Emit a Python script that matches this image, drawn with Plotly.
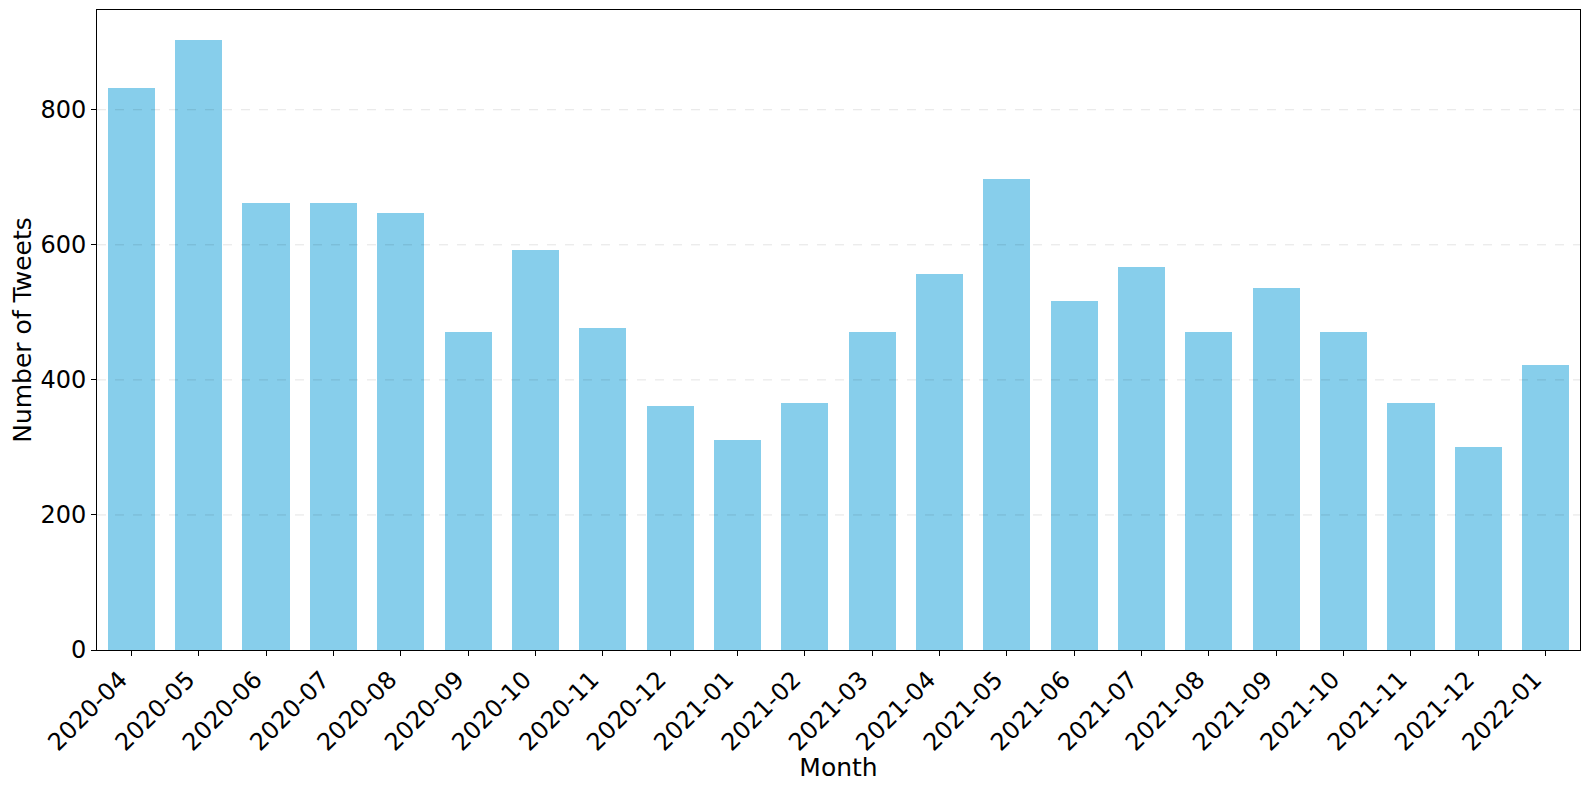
import plotly.graph_objects as go

# monthly tweet counts
months = [
    "2020-04", "2020-05", "2020-06", "2020-07", "2020-08", "2020-09",
    "2020-10", "2020-11", "2020-12", "2021-01", "2021-02", "2021-03",
    "2021-04", "2021-05", "2021-06", "2021-07", "2021-08", "2021-09",
    "2021-10", "2021-11", "2021-12", "2022-01",
]
tweet_counts = [
    832, 903, 662, 662, 647, 471,
    592, 477, 361, 311, 366, 471,
    557, 698, 517, 567, 471, 536,
    471, 366, 301, 422,
]
y_ticks = [0, 200, 400, 600, 800]

FONT = "DejaVu Sans"

fig = go.Figure()
fig.add_trace(
    go.Bar(
        x=list(range(len(months))),
        y=tweet_counts,
        width=0.7,
        marker=dict(color="#87CEEB", line=dict(width=0)),
        hovertext=months,
    )
)

# dashed grid drawn over the bars, like the matplotlib original
for v in y_ticks[1:]:
    fig.add_shape(
        type="line", xref="paper", yref="y", x0=0, x1=1, y0=v, y1=v,
        line=dict(color="rgba(0,0,0,0.11)", width=1, dash="dash"),
        layer="above",
    )

# page body has an 8px margin, so the figure is sized to fit inside it
fig.update_layout(
    width=1573,
    height=774,
    paper_bgcolor="white",
    plot_bgcolor="white",
    margin=dict(l=89, r=1, t=2, b=132),
    showlegend=False,
    font=dict(family=FONT, size=24, color="black"),
    bargap=0,
)
fig.update_xaxes(
    range=[-0.51, len(months) - 1 + 0.51],
    tickmode="array",
    tickvals=list(range(len(months))),
    ticktext=months,
    tickangle=-45,
    ticklabelshift=-11,
    ticks="outside",
    ticklen=5,
    tickcolor="black",
    showline=True,
    linecolor="black",
    linewidth=1,
    mirror=True,
    showgrid=False,
    zeroline=False,
    automargin=False,
    tickfont=dict(size=24),
    title=dict(text="Month", font=dict(size=25), standoff=3),
)
fig.update_yaxes(
    range=[0, 947.7],
    tickmode="array",
    tickvals=y_ticks,
    ticks="outside",
    ticklen=5,
    tickcolor="black",
    showline=True,
    linecolor="black",
    linewidth=1,
    mirror=True,
    showgrid=False,
    zeroline=False,
    automargin=False,
    tickfont=dict(size=24),
    title=dict(text="Number of Tweets", font=dict(size=25), standoff=3),
)

fig.write_html("out.html")
